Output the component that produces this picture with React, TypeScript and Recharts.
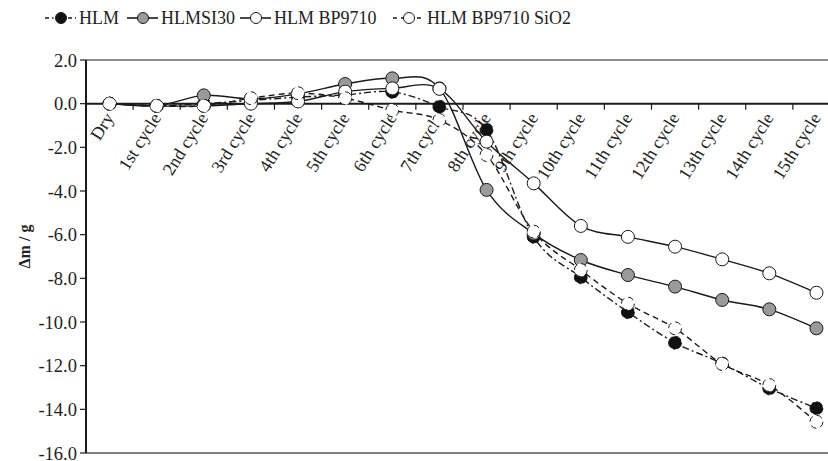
import React from "react";
import {
  LineChart,
  Line,
  XAxis,
  YAxis,
  ReferenceLine,
  ReferenceDot,
} from "recharts";

const categories = [
  "Dry",
  "1st cycle",
  "2nd cycle",
  "3rd cycle",
  "4th cycle",
  "5th cycle",
  "6th cycle",
  "7th cycle",
  "8th cycle",
  "9th cycle",
  "10th cycle",
  "11th cycle",
  "12th cycle",
  "13th cycle",
  "14th cycle",
  "15th cycle",
];

const hlm = [0, -0.1, 0.0, 0.15, 0.3, 0.4, 0.54, -0.14, -1.2, -6.1, -7.95, -9.55, -10.95, -11.9, -13.04, -13.95];
const hlmsi30 = [0, -0.1, 0.38, 0.22, 0.45, 0.9, 1.16, 0.7, -3.95, -5.95, -7.16, -7.85, -8.38, -8.99, -9.42, -10.29];
const bp9710 = [0, -0.1, -0.1, 0.0, 0.1, 0.55, 0.7, 0.68, -1.74, -3.65, -5.6, -6.1, -6.55, -7.13, -7.77, -8.66];
const bp9710sio2 = [0, -0.1, -0.1, 0.25, 0.48, 0.25, -0.3, -0.75, -2.35, -5.86, -7.62, -9.16, -10.29, -11.92, -12.89, -14.57];

const yTicks = [2, 0, -2, -4, -6, -8, -10, -12, -14, -16];

const data = categories.map((c, i) => ({
  cat: c,
  hlm: hlm[i],
  hlmsi30: hlmsi30[i],
  bp9710: bp9710[i],
  sio2: bp9710sio2[i],
}));

const FONT = "'Liberation Serif', 'Times New Roman', serif";
const INK = "#1a1a1a";
const HALF_BAND = 23.55;

// Excel-like smoothed line (Catmull-Rom through the points)
const smoothCurve = (context: any) => {
  let pts: number[][] = [];
  return {
    areaStart() {},
    areaEnd() {},
    lineStart() {
      pts = [];
    },
    point(x: number, y: number) {
      pts.push([+x, +y]);
    },
    lineEnd() {
      const n = pts.length;
      if (!n) return;
      context.moveTo(pts[0][0], pts[0][1]);
      for (let i = 0; i < n - 1; i++) {
        const p0 = pts[i - 1] || pts[i];
        const p1 = pts[i];
        const p2 = pts[i + 1];
        const p3 = pts[i + 2] || p2;
        context.bezierCurveTo(
          p1[0] + (p2[0] - p0[0]) / 6,
          p1[1] + (p2[1] - p0[1]) / 6,
          p2[0] - (p3[0] - p1[0]) / 6,
          p2[1] - (p3[1] - p1[1]) / 6,
          p2[0],
          p2[1]
        );
      }
    },
  };
};

const series = [
  { key: "hlm", name: "HLM", fill: "#111", dash: "7 3 2 3", legendDash: "4 3 1.5 3" },
  { key: "hlmsi30", name: "HLMSI30", fill: "#9a9a9a", dash: undefined, legendDash: undefined },
  { key: "bp9710", name: "HLM BP9710", fill: "#fff", dash: undefined, legendDash: undefined },
  { key: "sio2", name: "HLM BP9710 SiO2", fill: "#fff", dash: "6 4", legendDash: "4 4" },
];

// left edge of each legend glyph
const legendPos = [45, 127, 240, 393];

const CategoryTick = (props: any) => {
  const { cx, cy, label } = props;
  const ax = cx + 5;
  const ay = cy + 14;
  return (
    <g>
      <line x1={cx + HALF_BAND} y1={cy} x2={cx + HALF_BAND} y2={cy + 6} stroke={INK} strokeWidth={1.2} />
      <text
        x={ax}
        y={ay}
        transform={`rotate(-58, ${ax}, ${ay})`}
        textAnchor="end"
        fontSize={18}
        fontFamily={FONT}
        fill="#222"
      >
        {label}
      </text>
    </g>
  );
};

const YLabel = (props: any) => {
  const { viewBox } = props;
  const y = viewBox.y + viewBox.height / 2 - 10;
  return (
    <text
      x={24}
      y={y}
      transform={`rotate(-90, 24, ${y})`}
      textAnchor="middle"
      dominantBaseline="central"
      fontSize={16}
      fontWeight="bold"
      fontFamily={FONT}
      fill="#222"
    >
      Δm / g
    </text>
  );
};

const LegendRow = () => (
  <svg
    width={828}
    height={40}
    style={{ position: "absolute", left: 0, top: 0, zIndex: 2 }}
  >
    {series.map((s, i) => {
      const x = legendPos[i];
      return (
        <g key={s.key}>
          <line x1={x} y1={18} x2={x + 31} y2={18} stroke={INK} strokeWidth={1.6} strokeDasharray={s.legendDash} />
          <circle cx={x + 16} cy={18} r={5.5} fill={s.fill} stroke={INK} strokeWidth={1} />
          <text x={x + 34} y={24} fontSize={18} fontFamily={FONT} fill="#222">
            {s.name}
          </text>
        </g>
      );
    })}
  </svg>
);

const App = () => {
  return (
    <div
      style={{
        position: "absolute",
        left: 0,
        top: 0,
        width: 828,
        height: 461,
        overflow: "hidden",
        background: "#fff",
      }}
    >
      <LegendRow />
      <LineChart
        width={850}
        height={461}
        data={data}
        margin={{ top: 60, right: 10, bottom: 8, left: 6 }}
      >
        <XAxis dataKey="cat" hide padding={{ left: HALF_BAND, right: HALF_BAND }} />
        <YAxis
          domain={[-16, 2]}
          ticks={yTicks}
          width={80}
          interval={0}
          tickFormatter={(v: number) => v.toFixed(1)}
          axisLine={{ stroke: INK, strokeWidth: 2 }}
          tickLine={{ stroke: INK, strokeWidth: 1.2 }}
          tickSize={6}
          tickMargin={3}
          tick={{ fontSize: 18.5, fontFamily: FONT, fill: "#222" }}
          label={<YLabel />}
        />
        <ReferenceLine y={2} stroke="#666" strokeWidth={1.5} />
        <ReferenceLine y={-16} stroke="#555" strokeWidth={1.5} />
        <ReferenceLine y={0} stroke={INK} strokeWidth={2} />
        {categories.map((c) => (
          <ReferenceDot
            key={c}
            x={c}
            y={0}
            r={0}
            shape={(p: any) => <CategoryTick {...p} label={c} />}
          />
        ))}
        {series.map((s) => (
          <Line
            key={s.key}
            dataKey={s.key}
            name={s.name}
            type={smoothCurve as any}
            stroke={INK}
            strokeWidth={1.4}
            strokeDasharray={s.dash}
            dot={{ r: 6.5, fill: s.fill, stroke: INK, strokeWidth: 1 }}
            isAnimationActive={false}
          />
        ))}
      </LineChart>
    </div>
  );
};

export default App;
